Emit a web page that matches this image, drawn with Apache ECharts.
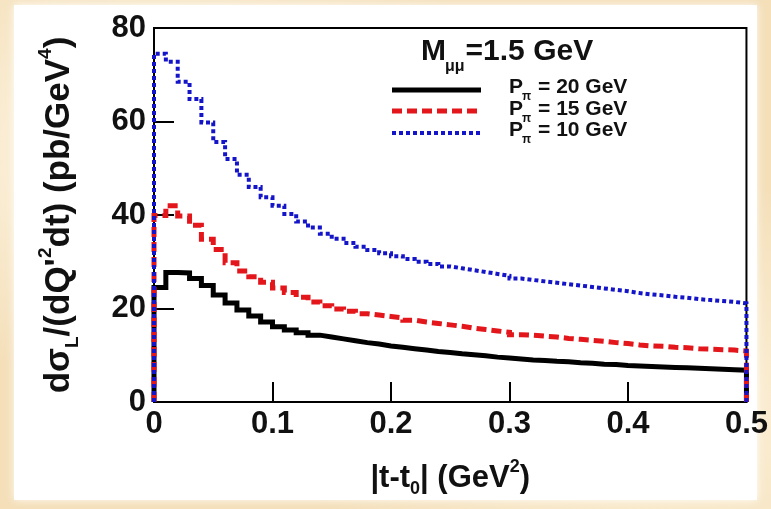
<!DOCTYPE html>
<html>
<head>
<meta charset="utf-8">
<script src="https://cdn.jsdelivr.net/npm/echarts@6/dist/echarts.min.js"></script>
<style>
  html, body { margin: 0; padding: 0; }
  body {
    width: 771px; height: 509px; overflow: hidden;
    background:
      radial-gradient(ellipse at 20% 30%, rgba(255,248,232,0.9) 0%, rgba(255,248,232,0) 45%),
      radial-gradient(ellipse at 85% 80%, rgba(255,246,226,0.8) 0%, rgba(255,246,226,0) 40%),
      #f4dfb9;
  }
  #chart { width: 771px; height: 509px; }
</style>
</head>
<body>
<div id="chart"></div>
<script>
// |t - t0| binning of the histograms (GeV^2)
const tMin = 0;
const tMax = 0.5;
const binWidth = 0.01;

// Axis ticks
const xTicks = [0, 0.1, 0.2, 0.3, 0.4, 0.5];
const yTicks = [0, 20, 40, 60, 80];

// Series labels written as base_subscript + remainder
const seriesNames = ['P_π = 20 GeV', 'P_π = 15 GeV', 'P_π = 10 GeV'];
const headerLabel = 'M_μμ=1.5 GeV';

// dσ_L/(dQ'^2 dt) per bin (pb/GeV^4), P_π = 20 GeV
const sigma20 = [
  24.5, 27.7, 27.6, 26.4, 24.9, 22.9, 21.2, 19.7, 18.4, 17.1,
  16.1, 15.4, 14.8, 14.3, 13.9, 13.5, 13.1, 12.7, 12.4, 12.0,
  11.7, 11.4, 11.1, 10.8, 10.6, 10.3, 10.1, 9.9, 9.6, 9.4,
  9.2, 9.0, 8.9, 8.7, 8.6, 8.4, 8.3, 8.1, 8.0, 7.8,
  7.7, 7.6, 7.5, 7.4, 7.3, 7.2, 7.1, 7.0, 6.9, 6.8
];

// P_π = 15 GeV
const sigma15 = [
  39.9, 42.0, 39.8, 37.8, 34.8, 32.6, 29.8, 28.0, 26.8, 25.6,
  24.4, 23.4, 22.4, 21.4, 20.6, 19.9, 19.4, 18.9, 18.6, 18.3,
  18.0, 17.5, 17.1, 16.8, 16.5, 16.2, 15.8, 15.5, 15.2, 14.9,
  14.4, 14.3, 14.1, 13.9, 13.6, 13.4, 13.2, 13.0, 12.7, 12.5,
  12.2, 12.0, 11.9, 11.7, 11.6, 11.4, 11.3, 11.2, 11.1, 10.9
];

// P_π = 10 GeV
const sigma10 = [
  74.5, 72.8, 68.5, 64.8, 59.8, 55.6, 52.0, 48.6, 46.0, 43.8,
  42.0, 40.2, 38.6, 37.3, 36.0, 34.9, 34.0, 33.2, 32.5, 31.8,
  31.2, 30.6, 30.0, 29.5, 29.0, 28.6, 28.2, 27.8, 27.4, 27.0,
  26.4, 26.1, 25.8, 25.5, 25.2, 24.9, 24.6, 24.3, 24.0, 23.7,
  23.3, 23.0, 22.8, 22.5, 22.3, 22.0, 21.8, 21.6, 21.4, 21.1
];

const FONT = '"Liberation Sans", Arial, Helvetica, sans-serif';
const TEXT_COLOR = '#111';
const colors = ['#000000', '#e3161b', '#1414c8'];
const dashes = ['solid', [10, 5], [4, 3]];
const widths = [5, 5, 4];

// Outline of a filled-bin histogram: rise at tMin, flat tops, drop at tMax
function histogramOutline(values) {
  const pts = [[tMin, 0]];
  values.forEach((v, i) => {
    const lo = +(tMin + i * binWidth).toFixed(6);
    const hi = +(tMin + (i + 1) * binWidth).toFixed(6);
    pts.push([lo, v], [hi, v]);
  });
  pts.push([tMax, 0]);
  return pts;
}

// Text width helper for laying out base/subscript pieces
const measureCtx = document.createElement('canvas').getContext('2d');
function textWidth(str, size) {
  measureCtx.font = 'bold ' + size + 'px ' + FONT;
  return measureCtx.measureText(str).width;
}

// Split "Base_Sub rest" into three text pieces: base, lowered subscript, remainder
function subscriptedText(label, x, y, size, subSize, drop, z) {
  const m = label.match(/^(.*?)_(\S+?)(=.*| .*)$/);
  const base = m ? m[1] : label;
  const sub = m ? m[2] : '';
  const rest = m ? m[3] : '';
  const mk = (text, px, py, fs) => ({
    type: 'text', x: px, y: py, z: z,
    style: { text: text, fontFamily: FONT, fontWeight: 'bold', fontSize: fs, fill: TEXT_COLOR, verticalAlign: 'middle', align: 'left' }
  });
  const wBase = textWidth(base, size);
  const wSub = textWidth(sub, subSize);
  const out = [mk(base, x, y, size)];
  if (sub) out.push(mk(sub, x + wBase - 1, y + drop, subSize));
  if (rest) out.push(mk(rest, x + wBase + wSub, y, size));
  return out;
}

const chart = echarts.init(document.getElementById('chart'), null, { renderer: 'canvas' });

const allSeries = [sigma20, sigma15, sigma10].map((vals, k) => ({
  name: seriesNames[k],
  type: 'line',
  data: histogramOutline(vals),
  symbol: 'none',
  clip: false,
  animation: false,
  lineStyle: { color: colors[k], width: widths[k], type: dashes[k], cap: 'butt', join: 'miter' },
  z: 3 + k
}));

// Legend: line samples with labels
const legendRows = [90, 111, 133];
const legendText = [87, 109, 130];
let legendGraphics = [];
seriesNames.forEach((name, k) => {
  legendGraphics.push({
    type: 'line',
    shape: { x1: 392, y1: legendRows[k], x2: 481, y2: legendRows[k] },
    style: { stroke: colors[k], lineWidth: widths[k], lineDash: dashes[k] === 'solid' ? null : dashes[k] },
    z: 10
  });
  legendGraphics = legendGraphics.concat(subscriptedText(name, 509, legendText[k], 21, 12, 10, 10));
});

const headerGraphics = subscriptedText(headerLabel, 421, 52, 30, 16, 15, 10);

const option = {
  backgroundColor: 'transparent',
  animation: false,
  grid: {
    left: 154, top: 28, right: 23, bottom: 107,
    show: true, backgroundColor: '#ffffff', borderColor: '#000', borderWidth: 2
  },
  xAxis: {
    type: 'value',
    min: xTicks[0], max: xTicks[xTicks.length - 1], interval: 0.1,
    name: '|t-t{sub|0}| (GeV{sup|2})',
    nameLocation: 'middle',
    nameGap: 56,
    nameTextStyle: {
      fontFamily: FONT, fontWeight: 'bold', fontSize: 31, color: TEXT_COLOR, lineHeight: 40,
      rich: {
        sub: { fontFamily: FONT, fontWeight: 'bold', fontSize: 18, verticalAlign: 'bottom', color: TEXT_COLOR },
        sup: { fontFamily: FONT, fontWeight: 'bold', fontSize: 18, verticalAlign: 'top', color: TEXT_COLOR }
      }
    },
    axisLine: { show: true, lineStyle: { color: '#000', width: 2 } },
    axisTick: { show: true, inside: true, length: 20, lineStyle: { color: '#000', width: 2 } },
    splitLine: { show: false },
    axisLabel: {
      fontFamily: FONT, fontWeight: 'bold', fontSize: 31, color: TEXT_COLOR, margin: 7,
      formatter: v => String(Math.round(v * 10) / 10)
    }
  },
  yAxis: {
    type: 'value',
    min: yTicks[0], max: yTicks[yTicks.length - 1], interval: 20,
    name: 'dσ{sub|L}/(dQ\'{sup|2}dt) (pb/GeV{sup|4})',
    nameLocation: 'middle',
    nameRotate: 90,
    nameGap: 72,
    nameTextStyle: {
      fontFamily: FONT, fontWeight: 'bold', fontSize: 35, color: TEXT_COLOR, lineHeight: 46,
      rich: {
        sub: { fontFamily: FONT, fontWeight: 'bold', fontSize: 19, verticalAlign: 'bottom', color: TEXT_COLOR },
        sup: { fontFamily: FONT, fontWeight: 'bold', fontSize: 19, verticalAlign: 'top', color: TEXT_COLOR }
      }
    },
    axisLine: { show: true, lineStyle: { color: '#000', width: 2 } },
    axisTick: { show: true, inside: true, length: 20, lineStyle: { color: '#000', width: 2 } },
    splitLine: { show: false },
    axisLabel: { fontFamily: FONT, fontWeight: 'bold', fontSize: 31, color: TEXT_COLOR, margin: 8 }
  },
  graphic: [
    {
      type: 'rect',
      shape: { x: 14, y: 5, width: 743, height: 495 },
      style: { fill: '#ffffff', shadowBlur: 8, shadowColor: 'rgba(255,255,255,0.9)' },
      z: -10, silent: true
    }
  ].concat(headerGraphics, legendGraphics),
  series: allSeries
};

chart.setOption(option);
</script>
</body>
</html>
